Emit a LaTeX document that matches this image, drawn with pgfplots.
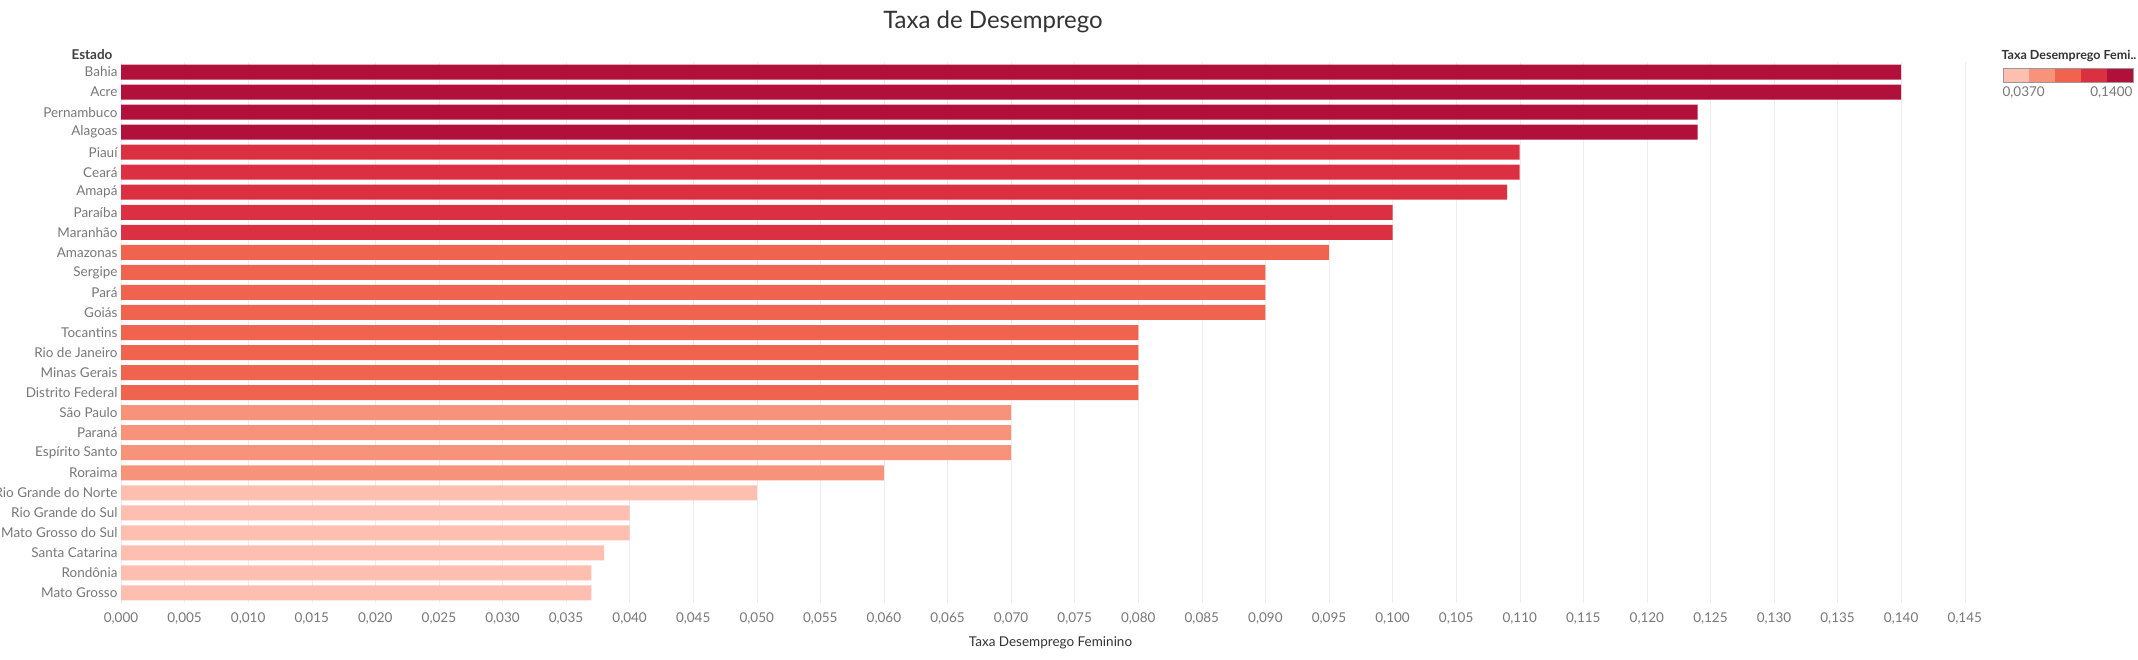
\documentclass[border=0pt]{standalone}
\usepackage{pgfplots}
\pgfplotsset{compat=1.18}
\usepackage{fontspec}
\setmainfont{Lato}
\definecolor{c1}{HTML}{FFBFB0}
\definecolor{c2}{HTML}{F7937A}
\definecolor{c3}{HTML}{F0644F}
\definecolor{c4}{HTML}{DA3042}
\definecolor{c5}{HTML}{B0103A}
\definecolor{tx}{HTML}{777777}
\begin{document}
\begin{tikzpicture}[x=1pt,y=1pt]
\path[use as bounding box] (0,0) rectangle (2138,660);
\node[font=\fontsize{24}{28}\selectfont,text=black!80] at (993,638) {Taxa de Desemprego};
\node[font=\fontsize{13.5}{16}\selectfont\bfseries,text=black!75,anchor=east] at (116,605) {Estado};
\begin{axis}[at={(121pt,57pt)},anchor=south west,scale only axis,
 width=1859pt,height=541pt,
 xmin=0,xmax=0.1462,ymin=-0.5,ymax=26.5,y dir=reverse,
 xbar,bar width=15pt,bar shift=0pt,
 axis line style={draw=none},
 xtick={0,0.005,...,0.1451},
 xmajorgrids,grid style={black!7},
 major tick length=0pt,
 tick label style={font=\fontsize{13.5}{16}\selectfont,text=tx},
 xticklabel style={yshift=-6pt},
 /pgf/number format/.cd,fixed,fixed zerofill,precision=3,use comma,assume math mode=true,
 /pgfplots/.cd,
 scaled x ticks=false,
 ytick={0,...,26},
 yticklabels={Bahia,Acre,Pernambuco,Alagoas,Piauí,Ceará,Amapá,Paraíba,Maranhão,Amazonas,Sergipe,Pará,Goiás,Tocantins,Rio de Janeiro,Minas Gerais,Distrito Federal,São Paulo,Paraná,Espírito Santo,Roraima,Rio Grande do Norte,Rio Grande do Sul,Mato Grosso do Sul,Santa Catarina,Rondônia,Mato Grosso},
 xlabel={Taxa Desemprego Feminino},
 xlabel style={font=\fontsize{13.5}{16}\selectfont,text=black!80,yshift=-6pt},
 clip=false]
\addplot[draw=none,fill=c5] coordinates {(0.140,0)(0.140,1)(0.124,2)(0.124,3)};
\addplot[draw=none,fill=c4] coordinates {(0.110,4)(0.110,5)(0.109,6)(0.100,7)(0.100,8)};
\addplot[draw=none,fill=c3] coordinates {(0.095,9)(0.090,10)(0.090,11)(0.090,12)(0.080,13)(0.080,14)(0.080,15)(0.080,16)};
\addplot[draw=none,fill=c2] coordinates {(0.070,17)(0.070,18)(0.070,19)(0.060,20)};
\addplot[draw=none,fill=c1] coordinates {(0.050,21)(0.040,22)(0.040,23)(0.038,24)(0.037,25)(0.037,26)};
\end{axis}
\node[font=\fontsize{12.5}{15}\selectfont\bfseries,text=black!80,anchor=west] at (1998,604) {Taxa Desemprego Femi..};
\foreach \c [count=\i from 0] in {c1,c2,c3,c4,c5}
  \fill[\c] (2003+\i*26,592) rectangle (2003+\i*26+26,578);
\draw[black!40] (2003,592) rectangle (2133,578);
\node[font=\fontsize{13.5}{16}\selectfont,text=tx,anchor=west] at (1999,567) {0,0370};
\node[font=\fontsize{13.5}{16}\selectfont,text=tx,anchor=east] at (2136,567) {0,1400};
\end{tikzpicture}
\end{document}
